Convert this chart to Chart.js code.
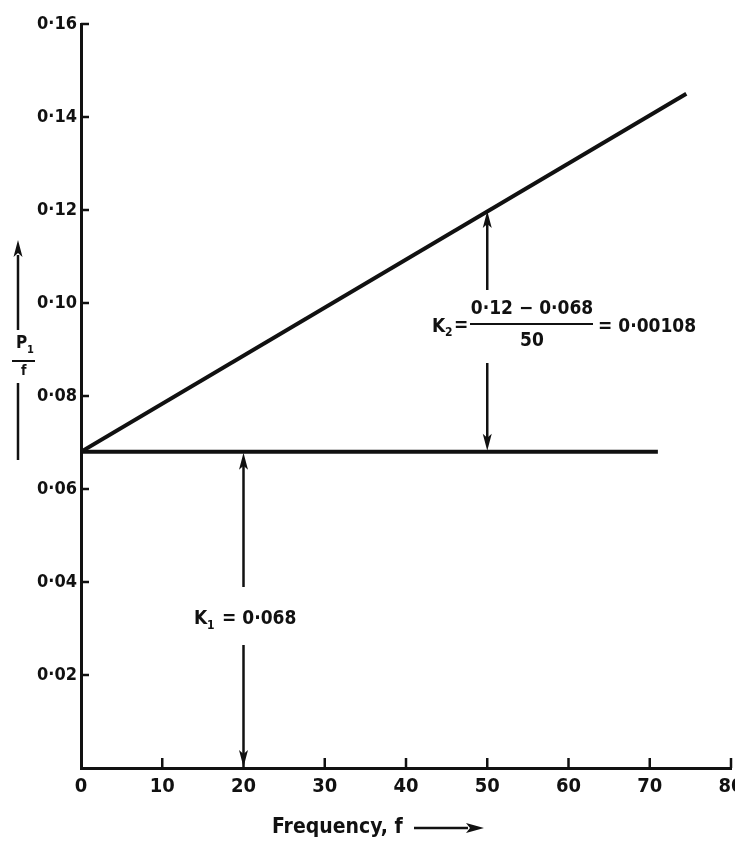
<!DOCTYPE html>
<html>
<head>
<meta charset="utf-8">
<script src="https://cdn.jsdelivr.net/npm/chart.js@4.4.1/dist/chart.umd.min.js"></script>
<style>
  html, body { margin: 0; padding: 0; background: #fff; }
  #wrap { width: 735px; height: 844px; position: relative; }
</style>
</head>
<body>
<div id="wrap"><canvas id="chart"></canvas></div>
<script>
const freqTicks = [0, 10, 20, 30, 40, 50, 60, 70, 80];
const ratioTicks = [0, 0.02, 0.04, 0.06, 0.08, 0.10, 0.12, 0.14, 0.16];

// P1/f against f: the sloped line and the constant K1 level
const slopeFreq = [0, 74.5];
const slopeRatio = [0.068, 0.145];
const levelFreq = [0, 71];
const levelRatio = [0.068, 0.068];

// dimension arrows
const k1Freq = 20;
const k1Value = 0.068;
const k2Freq = 50;
const k2Top = 0.12;

const ink = '#111';
const fontFam = '"DejaVu Sans Condensed", "DejaVu Sans", sans-serif';

function toPoints(xs, ys) {
    return xs.map((x, i) => ({ x: x, y: ys[i] }));
}

function headV(ctx, x, tipY, dir) {
    // dir = -1 points up, 1 points down
    ctx.beginPath();
    ctx.moveTo(x, tipY);
    ctx.lineTo(x - 4.5, tipY - dir * 17);
    ctx.lineTo(x, tipY - dir * 13);
    ctx.lineTo(x + 4.5, tipY - dir * 17);
    ctx.closePath();
    ctx.fill();
}

function seg(ctx, x1, y1, x2, y2, w) {
    ctx.lineWidth = w;
    ctx.beginPath();
    ctx.moveTo(x1, y1);
    ctx.lineTo(x2, y2);
    ctx.stroke();
}

const extras = {
    id: 'extras',
    afterDraw(chart) {
        const ctx = chart.ctx;
        const xs = chart.scales.x, ys = chart.scales.y;
        const area = chart.chartArea;
        ctx.save();
        ctx.strokeStyle = ink;
        ctx.fillStyle = ink;
        ctx.lineCap = 'butt';

        // inward ticks
        freqTicks.slice(1).forEach(v => {
            const px = xs.getPixelForValue(v);
            seg(ctx, px, area.bottom, px, area.bottom - 10, 2.5);
        });
        ratioTicks.slice(1).forEach(v => {
            const py = ys.getPixelForValue(v);
            seg(ctx, area.left, py, area.left + 8, py, 2.5);
        });

        // K1 arrow
        const x1 = xs.getPixelForValue(k1Freq);
        const yK1 = ys.getPixelForValue(k1Value);
        const y0 = ys.getPixelForValue(0);
        seg(ctx, x1, yK1 + 12, x1, 587, 2.5);
        headV(ctx, x1, yK1 + 1, -1);
        seg(ctx, x1, 645, x1, y0 - 12, 2.5);
        headV(ctx, x1, y0 - 1, 1);

        ctx.textBaseline = 'middle';
        ctx.textAlign = 'left';
        ctx.font = 'bold 19px ' + fontFam;
        ctx.fillText('K', 194, 619);
        ctx.font = 'bold 12px ' + fontFam;
        ctx.fillText('1', 207, 626);
        ctx.font = 'bold 19px ' + fontFam;
        ctx.fillText('= 0·068', 222, 619);

        // K2 arrow
        const x2 = xs.getPixelForValue(k2Freq);
        const yTop = ys.getPixelForValue(k2Top);
        seg(ctx, x2, yTop + 12, x2, 290, 2.5);
        headV(ctx, x2, yTop + 1, -1);
        seg(ctx, x2, 363, x2, yK1 - 12, 2.5);
        headV(ctx, x2, yK1 - 1, 1);

        ctx.font = 'bold 19px ' + fontFam;
        ctx.fillText('K', 432, 327);
        ctx.font = 'bold 12px ' + fontFam;
        ctx.fillText('2', 445, 333);
        ctx.font = 'bold 19px ' + fontFam;
        ctx.fillText('=', 454, 326);
        ctx.textAlign = 'center';
        ctx.fillText('0·12 − 0·068', 532, 309);
        seg(ctx, 470, 324, 593, 324, 2);
        ctx.fillText('50', 532, 341);
        ctx.textAlign = 'left';
        ctx.fillText('= 0·00108', 598, 327);

        // y axis title P1 / f with arrow
        const yx = 18;
        seg(ctx, yx, 460, yx, 383, 2.5);
        seg(ctx, yx, 330, yx, 255, 2.5);
        headV(ctx, yx, 240, -1);
        ctx.font = 'bold 17px ' + fontFam;
        ctx.fillText('P', 16, 344);
        ctx.font = 'bold 11px ' + fontFam;
        ctx.fillText('1', 27, 350);
        seg(ctx, 12, 361, 35, 361, 2);
        ctx.font = 'bold 14px ' + fontFam;
        ctx.fillText('f', 21, 371);

        // x axis title with arrow
        ctx.font = 'bold 21px ' + fontFam;
        ctx.fillText('Frequency, f', 272, 828);
        seg(ctx, 414, 828, 468, 828, 2.5);
        ctx.beginPath();
        ctx.moveTo(484, 828);
        ctx.lineTo(466, 823);
        ctx.lineTo(470, 828);
        ctx.lineTo(466, 833);
        ctx.closePath();
        ctx.fill();

        ctx.restore();
    }
};

new Chart(document.getElementById('chart'), {
    type: 'scatter',
    data: {
        datasets: [{
            label: 'P1/f',
            data: toPoints(slopeFreq, slopeRatio),
            showLine: true,
            borderColor: ink,
            borderWidth: 4,
            pointRadius: 0
        }, {
            label: 'K1',
            data: toPoints(levelFreq, levelRatio),
            showLine: true,
            borderColor: ink,
            borderWidth: 4,
            pointRadius: 0
        }]
    },
    options: {
        responsive: true,
        maintainAspectRatio: false,
        animation: false,
        layout: {
            padding: { top: 24, right: 4, left: 0, bottom: 0 }
        },
        scales: {
            x: {
                type: 'linear',
                min: 0,
                max: 80,
                afterBuildTicks: s => { s.ticks = freqTicks.map(v => ({ value: v })); },
                afterFit: s => { s.height = 76; s.paddingLeft = 0; s.paddingRight = 0; },
                grid: { drawOnChartArea: false, drawTicks: false },
                border: { display: true, color: ink, width: 3 },
                ticks: {
                    color: ink,
                    padding: 7,
                    maxRotation: 0,
                    autoSkip: false,
                    font: { family: fontFam, size: 20, weight: 'bold' },
                    callback: v => String(v)
                }
            },
            y: {
                type: 'linear',
                min: 0,
                max: 0.16,
                afterBuildTicks: s => { s.ticks = ratioTicks.map(v => ({ value: v })); },
                afterFit: s => { s.width = 81; s.paddingTop = 0; s.paddingBottom = 0; },
                grid: { drawOnChartArea: false, drawTicks: false },
                border: { display: true, color: ink, width: 3 },
                ticks: {
                    color: ink,
                    padding: 4,
                    autoSkip: false,
                    font: { family: fontFam, size: 18, weight: 'bold' },
                    callback: v => v === 0 ? '' : v.toFixed(2).replace('.', '·')
                }
            }
        },
        plugins: {
            legend: { display: false },
            tooltip: { enabled: false }
        }
    },
    plugins: [extras]
});
</script>
</body>
</html>
